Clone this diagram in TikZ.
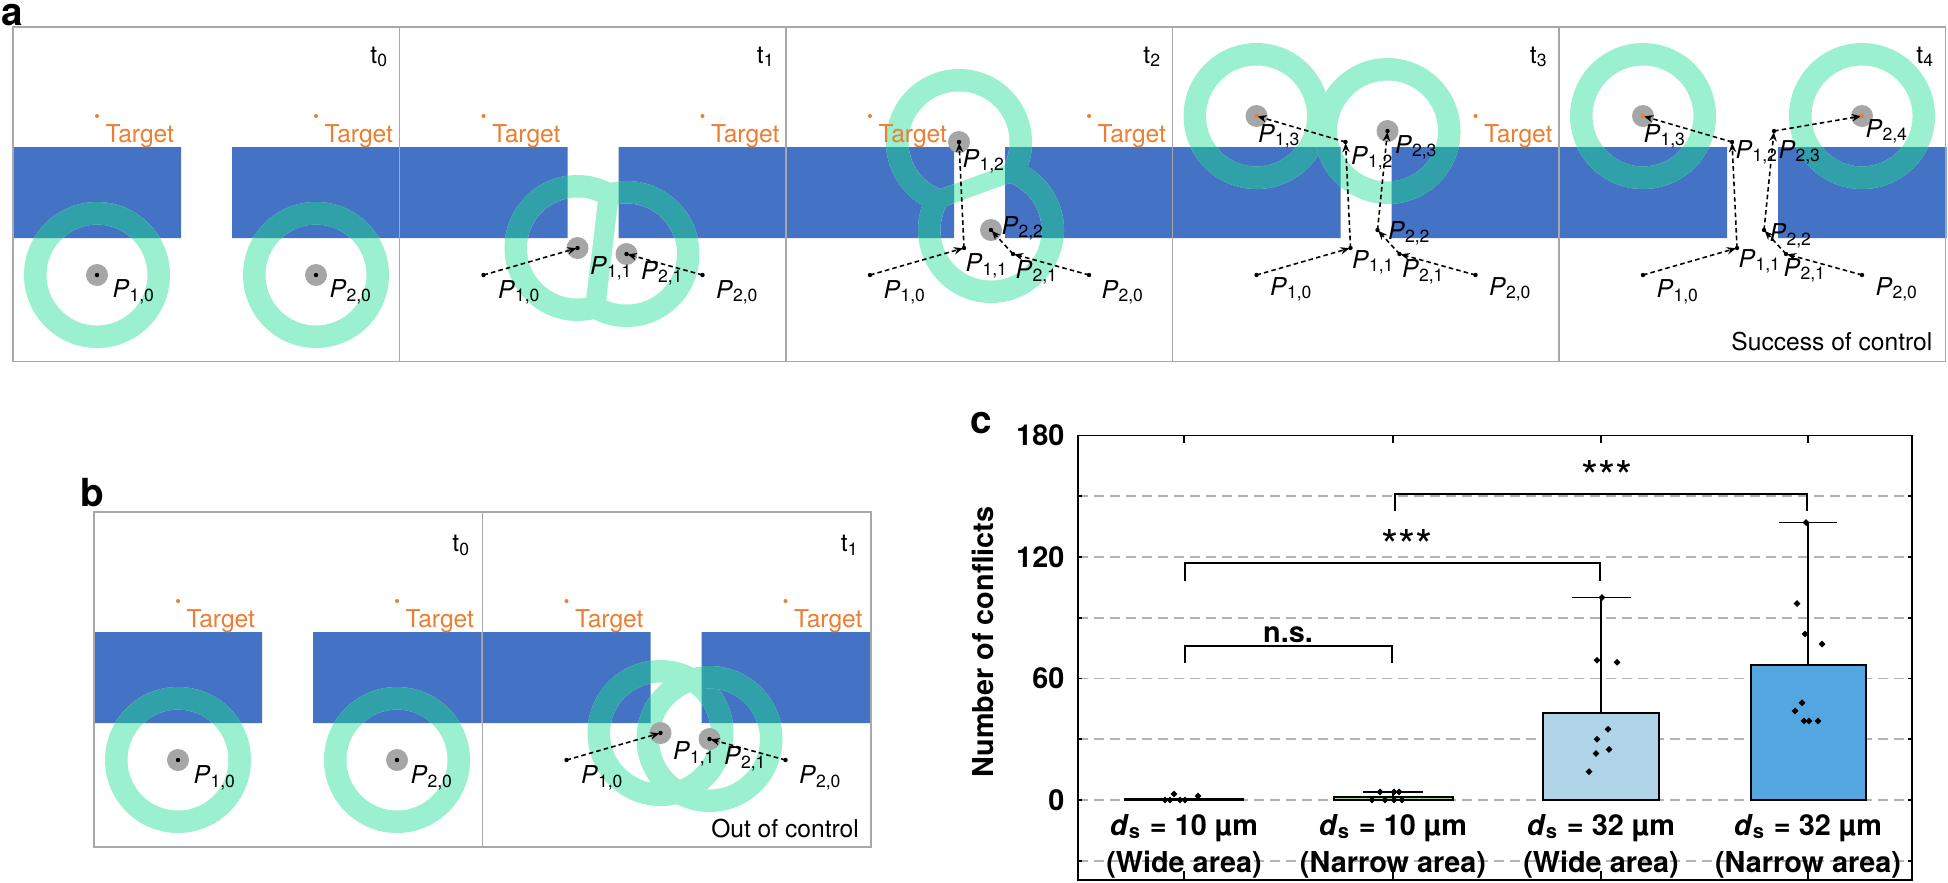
\documentclass[tikz,border=0pt]{standalone}
\usepackage{fontspec}
\setmainfont{TeX Gyre Heros}
\usepackage{tikz}
\usetikzlibrary{arrows.meta}
\usetikzlibrary{calc}

\definecolor{wallblue}{RGB}{68,114,196}
\definecolor{ringmint}{RGB}{155,240,207}
\definecolor{ringteal}{RGB}{48,161,168}
\definecolor{tgtorange}{RGB}{237,125,49}
\definecolor{posgray}{RGB}{166,166,166}
\definecolor{framegray}{RGB}{168,168,168}
\definecolor{gridgray}{RGB}{178,178,178}
\definecolor{bargreen}{RGB}{166,214,146}
\definecolor{barlight}{RGB}{175,212,232}
\definecolor{barblue}{RGB}{83,166,223}

\newcommand{\Plab}[1]{\textit{P}\textsubscript{#1}}
\newcommand{\walls}{(0,120) rectangle (168,211) (219,120) rectangle (387.5,211)}
% positions of the two particles, relative to a panel
\newcommand{\setpts}{%
  \foreach \n/\x/\y in {10/84/248,20/303/248,11/178/221,21/227/227,12/173/115,
                        22/205/203,13/84/89,23/215/104,24/303/89}
    \coordinate (P\n) at (\x,\y);}
\newcommand{\ringat}[1]{%
  \fill[ringmint,even odd rule] (#1) circle (7.3mm) circle (5.05mm);
  \begin{scope}
    \clip \walls;
    \fill[ringteal,even odd rule] (#1) circle (7.3mm) circle (5.05mm);
  \end{scope}}
\newcommand{\ringpair}[2]{%
  \fill[ringmint] (#1) circle (7.3mm) (#2) circle (7.3mm);
  \begin{scope}
    \clip \walls;
    \fill[ringteal] (#1) circle (7.3mm) (#2) circle (7.3mm);
  \end{scope}
  \coordinate (mid) at ($(#1)!.5!(#2)$);
  \foreach \p in {#1,#2}{
    \begin{scope}
      \clip ($(mid)!501.05mm!(\p)$) circle (500mm);
      \clip (\p) circle (5.05mm);
      \fill[white] (0,0) rectangle (387.5,334.5);
      \fill[wallblue] \walls;
    \end{scope}}}

\begin{document}
\begin{tikzpicture}[x=0.1mm,y=-0.1mm,>={Stealth[length=2.6pt,width=2.1pt]},
  panframe/.style={draw=framegray,line width=0.5pt},
  traj/.style={->,dash pattern=on 1.3pt off 0.9pt,line width=0.45pt,shorten >=0.1mm},
  plab/.style={anchor=base west,inner sep=0pt,font=\fontsize{7}{8}\selectfont},
  tgt/.style={plab,text=tgtorange},
  tlab/.style={plab,anchor=base east},
  panlab/.style={anchor=base west,inner sep=0pt,font=\fontsize{11}{13}\selectfont\bfseries},
  gridln/.style={gridgray,dash pattern=on 1mm off 0.6mm,line width=0.45pt},
  catlab/.style={anchor=base,inner sep=0pt,font=\fontsize{8.2}{10}\selectfont\bfseries},
  stars/.style={anchor=base,inner sep=0pt,font=\fontsize{12.5}{14}\selectfont},
  brk/.style={line width=0.45pt},
  barbox/.style={draw=black,line width=0.45pt},
  diam/.style={insert path={++(0,0.34mm) -- ++(0.34mm,-0.34mm) -- ++(-0.34mm,-0.34mm) -- ++(-0.34mm,0.34mm) -- cycle}}]
\useasboundingbox (0,0) rectangle (1948,882);

% ---------- a ----------
\node[panlab] (la) at (1,25) {a};
\foreach \i in {0,...,4}
  \fill[wallblue,shift={(13+386.5*\i,27)}] \walls;

% t0
\begin{scope}[shift={(13,27)}]
  \setpts
  \ringat{P10} \ringat{P20}
  \foreach \g in {13,24}{
    \fill[tgtorange] (P\g) circle (0.2mm);
    \node[tgt] (g\g) at ($(P\g)+(8,26)$) {Target};}
  \fill[posgray] (P10) circle (1.1mm) (P20) circle (1.1mm);
  \fill (P10) circle (0.22mm) (P20) circle (0.22mm);
  \foreach \a/\b/\dx/\dy in {1/0/15/22,2/0/13/22}
    \node[plab] (l\a\b) at ($(P\a\b)+(\dx,\dy)$) {\Plab{\a,\b}};
\end{scope}

% t1
\begin{scope}[shift={(399.5,27)}]
  \setpts
  \ringpair{P11}{P21}
  \foreach \g in {13,24}{
    \fill[tgtorange] (P\g) circle (0.2mm);
    \node[tgt] (g\g) at ($(P\g)+(8,26)$) {Target};}
  \fill[posgray] (P11) circle (1.1mm) (P21) circle (1.1mm);
  \foreach \a/\b in {10/11,20/21} \draw[traj] (P\a) -- (P\b);
  \foreach \n in {10,11,20,21} \fill (P\n) circle (0.22mm);
  \foreach \a/\b/\dx/\dy in {1/0/14/23,1/1/12/26,2/1/14/25,2/0/13/23}
    \node[plab] (l\a\b) at ($(P\a\b)+(\dx,\dy)$) {\Plab{\a,\b}};
\end{scope}

% t2
\begin{scope}[shift={(786,27)}]
  \setpts
  \ringpair{P12}{P22}
  \foreach \g in {13,24}{
    \fill[tgtorange] (P\g) circle (0.2mm);
    \node[tgt] (g\g) at ($(P\g)+(8,26)$) {Target};}
  \fill[posgray] (P12) circle (1.1mm) (P22) circle (1.1mm);
  \foreach \a/\b in {10/11,11/12,20/21,21/22} \draw[traj] (P\a) -- (P\b);
  \foreach \n in {10,11,12,20,21,22} \fill (P\n) circle (0.22mm);
  \foreach \a/\b/\dx/\dy in {1/0/13/23,2/0/12/23,1/1/1/23,2/1/2/24,1/2/3/25,2/2/10/4}
    \node[plab] (l\a\b) at ($(P\a\b)+(\dx,\dy)$) {\Plab{\a,\b}};
\end{scope}

% t3
\begin{scope}[shift={(1172.5,27)}]
  \setpts
  \ringat{P13} \ringat{P23}
  \fill[tgtorange] (P24) circle (0.2mm);
  \node[tgt] (g24) at ($(P24)+(8,26)$) {Target};
  \fill[posgray] (P13) circle (1.1mm) (P23) circle (1.1mm);
  \foreach \a/\b in {10/11,11/12,12/13,20/21,21/22,22/23} \draw[traj] (P\a) -- (P\b);
  \foreach \n in {10,11,12,20,21,22,23} \fill (P\n) circle (0.22mm);
  \fill[tgtorange] (P13) circle (0.22mm);
  \foreach \a/\b/\dx/\dy in {1/0/13/20,2/0/13/20,1/1/1/20,2/1/2/23,1/2/5/22,2/2/10/9,1/3/1/26,2/3/7/22}
    \node[plab] (l\a\b) at ($(P\a\b)+(\dx,\dy)$) {\Plab{\a,\b}};
\end{scope}

% t4
\begin{scope}[shift={(1559,27)}]
  \setpts
  \ringat{P13} \ringat{P24}
  \fill[posgray] (P13) circle (1.1mm) (P24) circle (1.1mm);
  \foreach \a/\b in {10/11,11/12,12/13,20/21,21/22,22/23,23/24} \draw[traj] (P\a) -- (P\b);
  \foreach \n in {10,11,12,20,21,22,23} \fill (P\n) circle (0.22mm);
  \fill[tgtorange] (P13) circle (0.22mm) (P24) circle (0.22mm);
  \foreach \a/\b/\dx/\dy in {1/0/13/22,2/0/13/20,1/1/1/19,2/1/-3/22,1/2/3/16,2/2/5/11,1/3/0/26,2/3/4/27,2/4/3/21}
    \node[plab] (l\a\b) at ($(P\a\b)+(\dx,\dy)$) {\Plab{\a,\b}};
  \node[tlab] (ok) at (374,323) {Success of control};
\end{scope}

% ---------- b ----------
\node[panlab] (lb) at (80,506) {b};
\foreach \i in {0,1}
  \fill[wallblue,shift={(94+388.5*\i,512)}] \walls;

% t0
\begin{scope}[shift={(94,512)}]
  \setpts
  \ringat{P10} \ringat{P20}
  \foreach \g in {13,24}{
    \fill[tgtorange] (P\g) circle (0.2mm);
    \node[tgt] (g\g) at ($(P\g)+(8,26)$) {Target};}
  \fill[posgray] (P10) circle (1.1mm) (P20) circle (1.1mm);
  \fill (P10) circle (0.22mm) (P20) circle (0.22mm);
  \foreach \a/\b/\dx/\dy in {1/0/15/23,2/0/13/23}
    \node[plab] (l\a\b) at ($(P\a\b)+(\dx,\dy)$) {\Plab{\a,\b}};
\end{scope}

% t1
\begin{scope}[shift={(482.5,512)}]
  \setpts
  \ringat{P11} \ringat{P21}
  \foreach \g in {13,24}{
    \fill[tgtorange] (P\g) circle (0.2mm);
    \node[tgt] (g\g) at ($(P\g)+(8,26)$) {Target};}
  \fill[posgray] (P11) circle (1.1mm) (P21) circle (1.1mm);
  \foreach \a/\b in {10/11,20/21} \draw[traj] (P\a) -- (P\b);
  \foreach \n in {10,11,20,21} \fill (P\n) circle (0.22mm);
  \foreach \a/\b/\dx/\dy in {1/0/14/23,1/1/12/26,2/1/14/25,2/0/13/23}
    \node[plab] (l\a\b) at ($(P\a\b)+(\dx,\dy)$) {\Plab{\a,\b}};
  \node[tlab] (ko) at (377,325) {Out of control};
\end{scope}

% frames and time stamps
\foreach \i in {0,...,4}{
  \draw[panframe] (13+386.5*\i,27) rectangle ++(386.5,334.5);
  \node[tlab] (ta\i) at (13+386.5*\i+376.5,63) {t\textsubscript{\i}};}
\foreach \i in {0,1}{
  \draw[panframe] (94+388.5*\i,512) rectangle ++(388.5,335);
  \node[tlab] (tb\i) at (94+388.5*\i+377.5,551) {t\textsubscript{\i}};}

% ---------- c ----------
\node[panlab] (lc) at (970,433) {c};
\begin{scope}[shift={(0,800)},y=0.2025mm]
  \foreach \v in {-30,0,...,150} \draw[gridln] (1078,\v) -- (1912,\v);
  % bars and error bars
  \filldraw[barbox,fill=black!50] (1125,0) rectangle (1243,0.6);
  \filldraw[barbox,fill=bargreen] (1334,0) rectangle (1453,1.5);
  \filldraw[barbox,fill=barlight] (1543,0) rectangle (1659,43);
  \filldraw[barbox,fill=barblue] (1751,0) rectangle (1866,66.7);
  \draw[brk] (1393,1.5) -- (1393,4) (1363,4) -- (1423,4);
  \draw[brk] (1601,43) -- (1601,100) (1572,100) -- (1631,100);
  \draw[brk] (1808,66.7) -- (1808,137) (1779,137) -- (1837,137);
  % single runs
  \foreach \x/\v in {1165/0,1170/0,1174/3,1180/0,1185/0,1198/2,
      1372/0,1380/4,1385/0,1394/4,1394/0,1399/4,1402/0,
      1602/100,1597/69,1617/68,1608/35,1597/30,1609/25,1596/23,1589/14,
      1806/137,1797/97,1805/82,1822/77,1802/48,1795/44,1804/39,1809/39,1818/39}
    \fill (\x,\v) [diam];
  % axes
  \draw[barbox] (1078,-39.5) rectangle (1912,180);
  \foreach \v in {-30,0,...,150}{
    \draw[brk] (1078,\v) -- +(0.4mm,0);
    \draw[brk] (1912,\v) -- +(-0.4mm,0);}
  \foreach \x in {1184,1393,1601,1808}{
    \draw[brk] (\x,180) -- +(0,-0.7mm);
    \draw[brk] (\x,-39.5) -- +(0,0.9mm);}
  \foreach \v in {0,60,120,180} \node[catlab,anchor=east] (y\v) at (1065,\v) {\v};
  \node[catlab,anchor=center,rotate=90] (ylab) at (983,78) {Number of conflicts};
  \foreach \xc/\ds/\ar in {1184/10/Wide,1393/10/Narrow,1601/32/Wide,1808/32/Narrow}{
    \node[catlab] (c\xc) at (\xc,-17.3) {\textit{d}\textsubscript{s} = \ds\ µm};
    \node[catlab] (a\xc) at (\xc,-35.6) {(\ar\ area)};}
  % significance
  \draw[brk] (1185,67.7) |- (1392,76) -- (1392,67.7);
  \node[catlab] (ns) at (1288,78) {n.s.};
  \draw[brk] (1185,108) |- (1600,117) -- (1600,108);
  \node[stars] (st1) at (1407,118) {***};
  \draw[brk] (1395,142.7) |- (1807,151) -- (1807,142.7);
  \node[stars] (st2) at (1607,152) {***};
\end{scope}
\end{tikzpicture}
\end{document}
